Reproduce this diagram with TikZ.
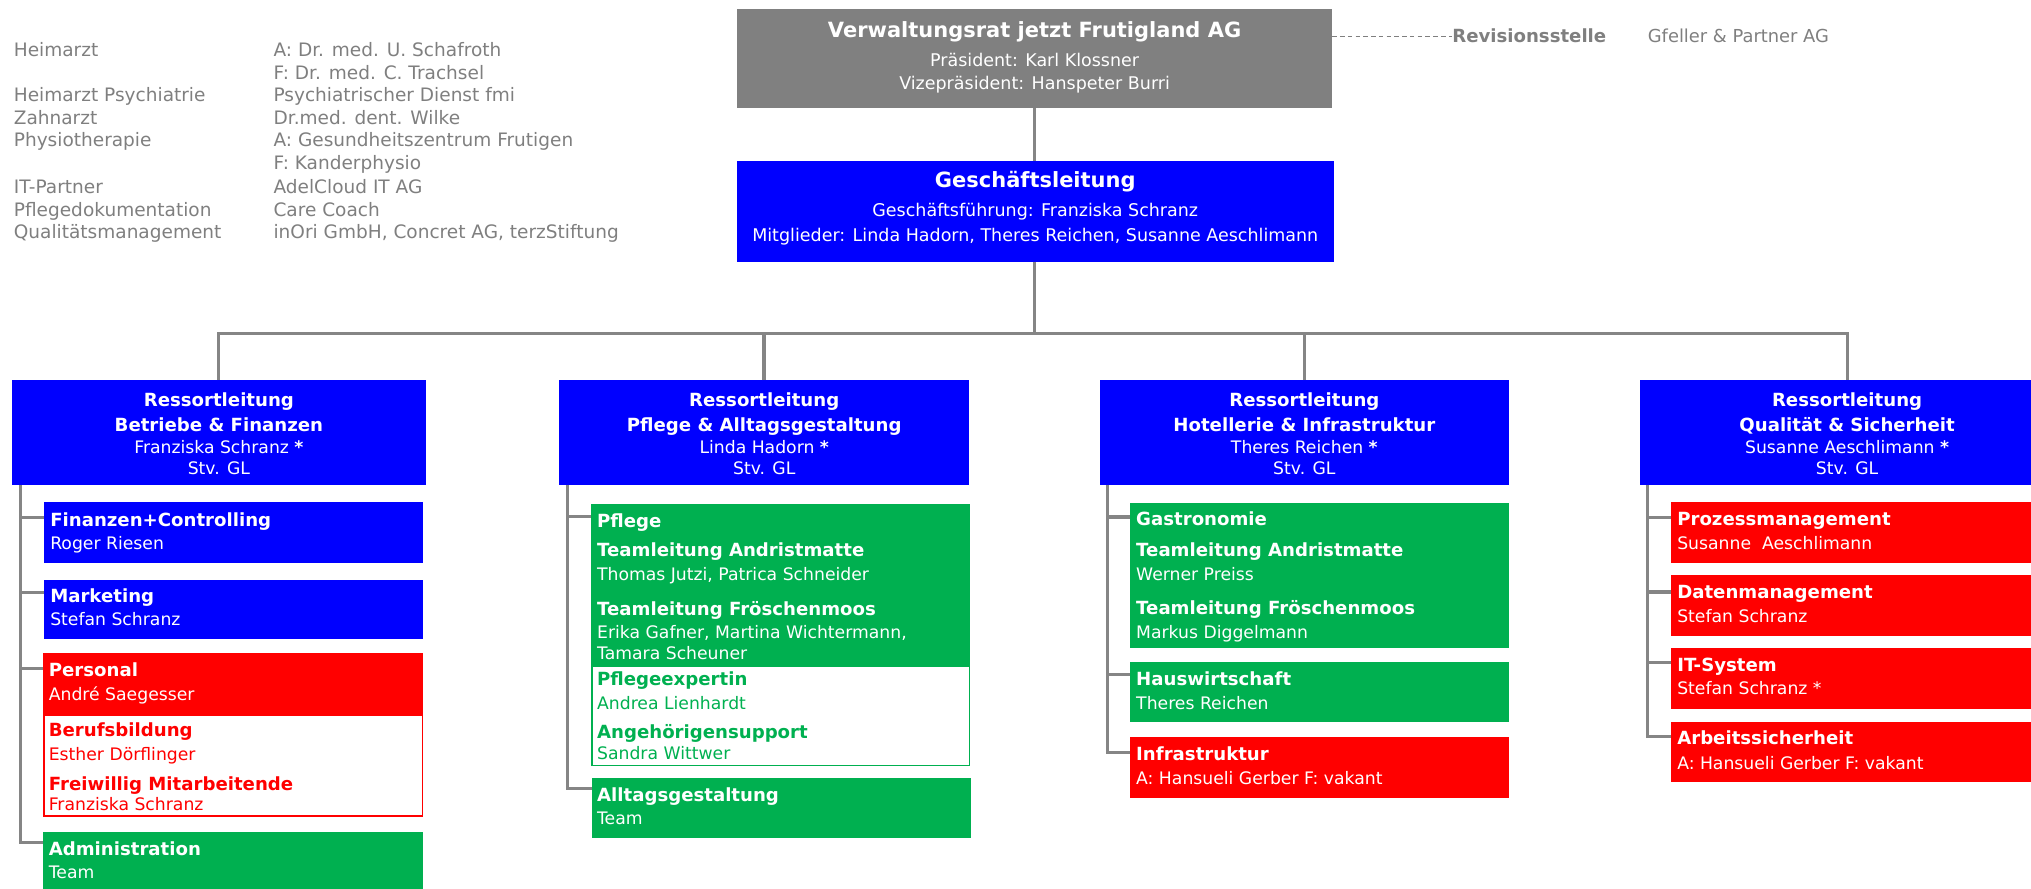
\documentclass[tikz,border=0pt]{standalone}
\usepackage{fontspec}
\setmainfont{DejaVu Sans}
\definecolor{cblue}{HTML}{0000FF}
\definecolor{cred}{HTML}{FF0000}
\definecolor{cgreen}{HTML}{00B050}
\definecolor{cgray}{HTML}{808080}
\definecolor{lgray}{HTML}{858585}
\definecolor{tgray}{HTML}{7F7F7F}
\newcommand\fsReg{\fontsize{13.3}{16}\selectfont}
\newcommand\fsBold{\fontsize{14}{17}\selectfont\bfseries}
\newcommand\fsBig{\fontsize{16.2}{19}\selectfont\bfseries}
\newcommand\fsLeg{\fontsize{14.3}{17}\selectfont}
\newcommand\fsSub{\fontsize{13.5}{16}\selectfont}
\newcommand\fsGfe{\fontsize{13.8}{16}\selectfont}
\tikzset{
  blk/.style={inner sep=0pt, outer sep=0pt, anchor=north west},
  conn/.style={draw=lgray, line width=2.4pt},
  tl/.style={inner sep=0pt, anchor=base west},
  tc/.style={inner sep=0pt, anchor=base},
  hb/.style={font=\fsBold},
  rg/.style={font=\fsReg},
  lg/.style={tl, font=\fsLeg, text=tgray},
}
\begin{document}
\begin{tikzpicture}[x=1pt, y=-1pt]
\useasboundingbox (0,0) rectangle (1568,685.6);

% ---------- legend ----------
\node[lg] (l1)  at (10.5,43.6)  {Heimarzt};
\node[lg] (l2)  at (10.5,78.4)  {Heimarzt Psychiatrie};
\node[lg] (l3)  at (10.5,96.4)  {Zahnarzt};
\node[lg] (l4)  at (10.5,113.1) {Physiotherapie};
\node[lg] (l5)  at (10.5,149.2) {IT-Partner};
\node[lg] (l6)  at (10.5,167.2) {Pflegedokumentation};
\node[lg] (l7)  at (10.5,183.9) {Qualitätsmanagement};
\node[lg] (m1)  at (211,43.6)  {A: Dr. med. U. Schafroth};
\node[lg] (m2)  at (211,61.6)  {F: Dr. med. C. Trachsel};
\node[lg] (m3)  at (211,78.4)  {Psychiatrischer Dienst fmi};
\node[lg] (m4)  at (211,96.4)  {Dr.med. dent. Wilke};
\node[lg] (m5)  at (211,113.1) {A: Gesundheitszentrum Frutigen};
\node[lg] (m6)  at (211,131.1) {F: Kanderphysio};
\node[lg] (m7)  at (211,149.2) {AdelCloud IT AG};
\node[lg] (m8)  at (211,167.2) {Care Coach};
\node[lg] (m9)  at (211,183.9) {inOri GmbH, Concret AG, terzStiftung};

% ---------- top boxes ----------
\node[blk, fill=cgray, minimum width=459.5, minimum height=76.2] (vr) at (569,7) {};
\node[tc, font=\fsBig, text=white] (vrt) at (798.75,28.9) {Verwaltungsrat jetzt Frutigland AG};
\node[tc, font=\fsSub, text=white] (vr1) at (798.75,51.1) {Präsident: Karl Klossner};
\node[tc, font=\fsSub, text=white] (vr2) at (798.75,69.1) {Vizepräsident: Hanspeter Burri};

\node[blk, fill=cblue, minimum width=460.5, minimum height=77.7] (gl) at (569,124.3) {};
\node[tc, font=\fsBig, text=white] (glt) at (799.25,144.9) {Geschäftsleitung};
\node[tc, font=\fsSub, text=white] (gl1) at (799.25,167.5) {Geschäftsführung: Franziska Schranz};
\node[tc, font=\fsSub, text=white] (gl2) at (799.25,186.3) {Mitglieder: Linda Hadorn, Theres Reichen, Susanne Aeschlimann};

\node[tl, font=\fsBold, text=tgray] (rev) at (1121,33.1) {Revisionsstelle};
\node[tl, font=\fsGfe, text=tgray] (gfe) at (1272,33.1) {Gfeller \& Partner AG};
\draw[tgray, line width=0.8pt, dash pattern=on 3.5pt off 2.5pt] ([yshift=-21.3pt]vr.north east) -- (rev.west |- 0,28.3);

% ---------- Ressort boxes ----------
\node[blk, fill=cblue, minimum width=319, minimum height=81] (r1) at (9.5,293.5) {};
\node[blk, fill=cblue, minimum width=316.3, minimum height=81] (r2) at (431.7,293.5) {};
\node[blk, fill=cblue, minimum width=316, minimum height=81] (r3) at (849,293.5) {};
\node[blk, fill=cblue, minimum width=320, minimum height=81] (r4) at (1266,293.5) {};

\node[tc, hb, text=white] (r1a) at (169,313.9) {Ressortleitung};
\node[tc, hb, text=white] (r1b) at (169,333.2) {Betriebe \& Finanzen};
\node[tc, rg, text=white] (r1c) at (169,349.9) {Franziska Schranz \textbf{*}};
\node[tc, rg, text=white] (r1d) at (169,366.6) {Stv. GL};

\node[tc, hb, text=white] (r2a) at (590,313.9) {Ressortleitung};
\node[tc, hb, text=white] (r2b) at (590,333.2) {Pflege \& Alltagsgestaltung};
\node[tc, rg, text=white] (r2c) at (590,349.9) {Linda Hadorn \textbf{*}};
\node[tc, rg, text=white] (r2d) at (590,366.6) {Stv. GL};

\node[tc, hb, text=white] (r3a) at (1007,313.9) {Ressortleitung};
\node[tc, hb, text=white] (r3b) at (1007,333.2) {Hotellerie \& Infrastruktur};
\node[tc, rg, text=white] (r3c) at (1007,349.9) {Theres Reichen \textbf{*}};
\node[tc, rg, text=white] (r3d) at (1007,366.6) {Stv. GL};

\node[tc, hb, text=white] (r4a) at (1426,313.9) {Ressortleitung};
\node[tc, hb, text=white] (r4b) at (1426,333.2) {Qualität \& Sicherheit};
\node[tc, rg, text=white] (r4c) at (1426,349.9) {Susanne Aeschlimann \textbf{*}};
\node[tc, rg, text=white] (r4d) at (1426,366.6) {Stv. GL};

% ---------- column 1 ----------
\node[blk, fill=cblue, minimum width=292.4, minimum height=46.6] (fin) at (34,387.9) {};
\node[tl, hb, text=white] (fin1) at (38.6,406.5) {Finanzen+Controlling};
\node[tl, rg, text=white] (fin2) at (38.6,424.5) {Roger Riesen};

\node[blk, fill=cblue, minimum width=292.4, minimum height=46.3] (mkt) at (34,447.4) {};
\node[tl, hb, text=white] (mkt1) at (38.6,465.2) {Marketing};
\node[tl, rg, text=white] (mkt2) at (38.6,483.2) {Stefan Schranz};

\node[blk, fill=cred, minimum width=292.9, minimum height=46.9] (per) at (33.5,504.5) {};
\node[tl, hb, text=white] (per1) at (37.5,521.9) {Personal};
\node[tl, rg, text=white] (per2) at (37.5,540.9) {André Saegesser};

\node[blk, draw=cred, line width=1pt, minimum width=292.4, minimum height=78] (beru) at (34,551.9) {};
\node[tl, hb, text=cred] (beru1) at (37.5,568.7) {Berufsbildung};
\node[tl, rg, text=cred] (beru2) at (37.5,587.2) {Esther Dörflinger};
\node[tl, hb, text=cred] (beru3) at (37.5,609.9) {Freiwillig Mitarbeitende};
\node[tl, rg, text=cred] (beru4) at (37.5,625.8) {Franziska Schranz};

\node[blk, fill=cgreen, minimum width=292.9, minimum height=45] (adm) at (33.5,642.7) {};
\node[tl, hb, text=white] (adm1) at (37.5,660.6) {Administration};
\node[tl, rg, text=white] (adm2) at (37.5,678.1) {Team};

% ---------- column 2 ----------
\node[blk, fill=cgreen, minimum width=292.6, minimum height=125.6] (pfl) at (456.4,389) {};
\node[tl, hb, text=white] (pfl1) at (460.8,407) {Pflege};
\node[tl, hb, text=white] (pfl2) at (460.8,429.7) {Teamleitung Andristmatte};
\node[tl, rg, text=white] (pfl3) at (460.8,448.2) {Thomas Jutzi, Patrica Schneider};
\node[tl, hb, text=white] (pfl4) at (460.8,475.3) {Teamleitung Fröschenmoos};
\node[tl, rg, text=white] (pfl5) at (460.8,493.3) {Erika Gafner, Martina Wichtermann,};
\node[tl, rg, text=white] (pfl6) at (460.8,509) {Tamara Scheuner};

\node[blk, draw=cgreen, line width=1pt, minimum width=291.4, minimum height=76.4] (pex) at (457,514.6) {};
\node[tl, hb, text=cgreen] (pex1) at (460.8,529.3) {Pflegeexpertin};
\node[tl, rg, text=cgreen] (pex2) at (460.8,547.6) {Andrea Lienhardt};
\node[tl, hb, text=cgreen] (pex3) at (460.8,570) {Angehörigensupport};
\node[tl, rg, text=cgreen] (pex4) at (460.8,586.2) {Sandra Wittwer};

\node[blk, fill=cgreen, minimum width=292.6, minimum height=46.3] (all) at (457,601) {};
\node[tl, hb, text=white] (all1) at (460.8,618.4) {Alltagsgestaltung};
\node[tl, rg, text=white] (all2) at (460.8,636.4) {Team};

% ---------- column 3 ----------
\node[blk, fill=cgreen, minimum width=292.4, minimum height=111.8] (gas) at (872.6,388.6) {};
\node[tl, hb, text=white] (gas1) at (877,406) {Gastronomie};
\node[tl, hb, text=white] (gas2) at (877,429.7) {Teamleitung Andristmatte};
\node[tl, rg, text=white] (gas3) at (877,448.2) {Werner Preiss};
\node[tl, hb, text=white] (gas4) at (877,474.3) {Teamleitung Fröschenmoos};
\node[tl, rg, text=white] (gas5) at (877,493.3) {Markus Diggelmann};

\node[blk, fill=cgreen, minimum width=292.4, minimum height=46.6] (hau) at (872.6,511) {};
\node[tl, hb, text=white] (hau1) at (877,529.6) {Hauswirtschaft};
\node[tl, rg, text=white] (hau2) at (877,547.6) {Theres Reichen};

\node[blk, fill=cred, minimum width=292.4, minimum height=47] (inf) at (872.6,569) {};
\node[tl, hb, text=white] (inf1) at (877,586.8) {Infrastruktur};
\node[tl, rg, text=white] (inf2) at (877,605.3) {A: Hansueli Gerber F: vakant};

% ---------- column 4 ----------
\node[blk, fill=cred, minimum width=290, minimum height=46.8] (pro) at (1290.4,387.7) {};
\node[tl, hb, text=white] (pro1) at (1294.7,405.8) {Prozessmanagement};
\node[tl, rg, text=white] (pro2) at (1294.7,424) {Susanne\ \ Aeschlimann};

\node[blk, fill=cred, minimum width=290, minimum height=46.9] (dat) at (1290.4,444) {};
\node[tl, hb, text=white] (dat1) at (1294.7,461.9) {Datenmanagement};
\node[tl, rg, text=white] (dat2) at (1294.7,480.4) {Stefan Schranz};

\node[blk, fill=cred, minimum width=290, minimum height=46.6] (its) at (1290.4,500.4) {};
\node[tl, hb, text=white] (its1) at (1294.7,518.5) {IT-System};
\node[tl, rg, text=white] (its2) at (1294.7,536.5) {Stefan Schranz *};

\node[blk, fill=cred, minimum width=290, minimum height=46.7] (arb) at (1290.4,557.3) {};
\node[tl, hb, text=white] (arb1) at (1294.7,575.1) {Arbeitssicherheit};
\node[tl, rg, text=white] (arb2) at (1294.7,593.9) {A: Hansueli Gerber F: vakant};

% ---------- connectors ----------
\coordinate (bus) at (798.75,257.4);
\draw[conn] (vr.south) -- (vr.south |- gl.north);
\draw[conn] (gl.south -| bus) -- (bus);
\draw[conn] (r1.north) -- (r1.north |- bus) -- (r4.north |- bus) -- (r4.north);
\draw[conn] (r2.north) -- (r2.north |- bus);
\draw[conn] (r3.north) -- (r3.north |- bus);

\draw[conn] ([xshift=6pt]r1.south west) |- ([yshift=-11.5pt]fin.north west);
\draw[conn] ([xshift=6pt]r1.south west) |- ([yshift=-10.3pt]mkt.north west);
\draw[conn] ([xshift=6pt]r1.south west) |- ([yshift=-11.5pt]per.north west);
\draw[conn] ([xshift=6pt]r1.south west) |- ([yshift=-8pt]adm.north west);

\draw[conn] ([xshift=6.3pt]r2.south west) |- ([yshift=-10pt]pfl.north west);
\draw[conn] ([xshift=6.3pt]r2.south west) |- ([yshift=-7.5pt]all.north west);

\draw[conn] ([xshift=6pt]r3.south west) |- ([yshift=-10.5pt]gas.north west);
\draw[conn] ([xshift=6pt]r3.south west) |- ([yshift=-10pt]hau.north west);
\draw[conn] ([xshift=6pt]r3.south west) |- ([yshift=-11.7pt]inf.north west);

\draw[conn] ([xshift=5.8pt]r4.south west) |- ([yshift=-11.8pt]pro.north west);
\draw[conn] ([xshift=5.8pt]r4.south west) |- ([yshift=-13pt]dat.north west);
\draw[conn] ([xshift=5.8pt]r4.south west) |- ([yshift=-11.3pt]its.north west);
\draw[conn] ([xshift=5.8pt]r4.south west) |- ([yshift=-11.6pt]arb.north west);
\end{tikzpicture}
\end{document}
